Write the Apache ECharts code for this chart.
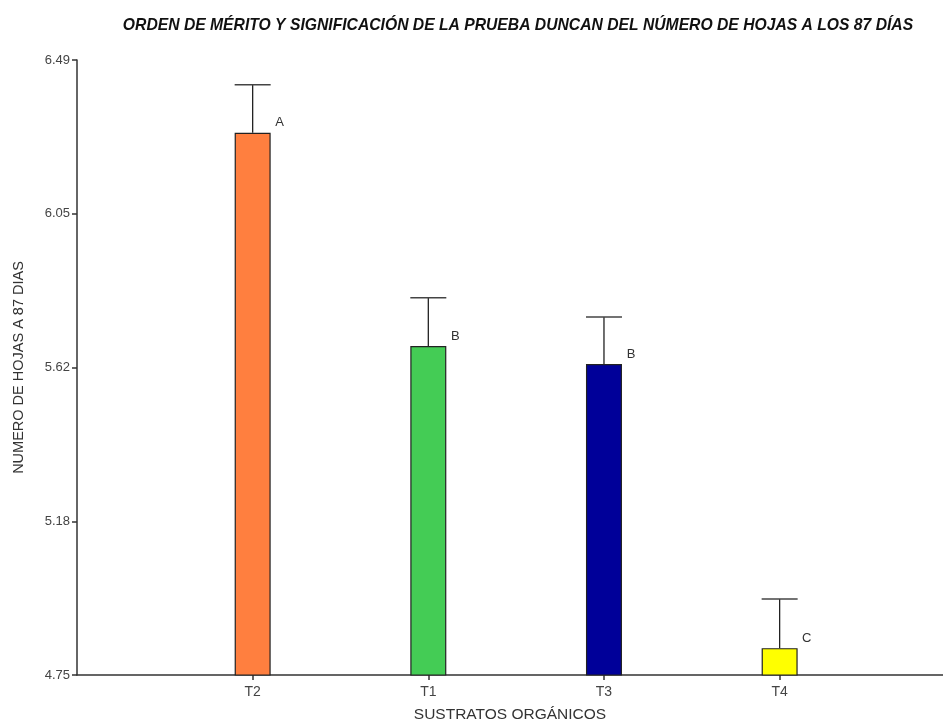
<!DOCTYPE html>
<html><head><meta charset="utf-8">
<script src="https://cdn.jsdelivr.net/npm/echarts@6/dist/echarts.min.js"></script>
<style>html,body{margin:0;padding:0;background:#fff}#c{width:943px;height:722px}</style>
</head><body><div id="c"></div>
<script>
const categories = ['T2', 'T1', 'T3', 'T4'];
const means = [6.284, 5.681, 5.630, 4.826];
const upper = [6.42, 5.817, 5.763, 4.965];
const groups = ['A', 'B', 'B', 'C'];
const barColors = ['#FF7F3F', '#44CC55', '#000099', '#FFFF00'];
const yTickValues = [4.75, 5.185, 5.62, 6.055, 6.49];
const yTickLabels = ['4.75', '5.18', '5.62', '6.05', '6.49'];
const positions = categories.map((c, i) => i + 1);

const chart = echarts.init(document.getElementById('c'));
chart.setOption({
  animation: false,
  title: {
    text: 'ORDEN DE MÉRITO Y SIGNIFICACIÓN DE LA PRUEBA DUNCAN DEL NÚMERO DE HOJAS A LOS 87 DÍAS',
    left: 513, top: 13, textAlign: 'center',
    textStyle: { fontFamily: 'Liberation Sans', fontStyle: 'italic', fontWeight: 'bold', fontSize: 15.7, color: '#111' }
  },
  grid: { left: 77, right: 0, top: 60, bottom: 47, containLabel: false, outerBoundsMode: 'none' },
  xAxis: {
    type: 'value', min: 0, max: 4.93,
    name: 'SUSTRATOS ORGÁNICOS', nameLocation: 'middle', nameGap: 32,
    nameTextStyle: { fontFamily: 'Liberation Sans', fontSize: 15.5, color: '#333' },
    axisLine: { onZero: false, lineStyle: { color: '#333', width: 1.5 } },
    axisTick: { show: true, length: 5, customValues: positions, lineStyle: { color: '#333', width: 1.5 } },
    axisLabel: {
      customValues: positions, fontFamily: 'Liberation Sans', fontSize: 14, color: '#444', margin: 10,
      formatter: v => categories[Math.round(v) - 1]
    },
    splitLine: { show: false }
  },
  yAxis: {
    type: 'value', min: 4.75, max: 6.49,
    name: 'NUMERO DE HOJAS A 87 DIAS', nameLocation: 'middle', nameGap: 51,
    nameTextStyle: { fontFamily: 'Liberation Sans', fontSize: 14.5, color: '#333' },
    axisLine: { show: true, onZero: false, lineStyle: { color: '#333', width: 1.5 } },
    axisTick: { show: true, length: 5, customValues: yTickValues, lineStyle: { color: '#333', width: 1.5 } },
    axisLabel: {
      customValues: yTickValues, fontFamily: 'Liberation Sans', fontSize: 13, color: '#444', margin: 7,
      formatter: v => yTickLabels[yTickValues.findIndex(t => Math.abs(t - v) < 1e-6)]
    },
    splitLine: { show: false }
  },
  series: [
    {
      type: 'bar', barWidth: 36,
      data: means.map((m, i) => ({ value: [positions[i], m], itemStyle: { color: barColors[i] } })),
      itemStyle: { borderColor: '#222', borderWidth: 1.2 }
    },
    {
      type: 'custom', z: 5,
      data: means.map((m, i) => [positions[i], m, upper[i], groups[i]]),
      renderItem: (params, api) => {
        const x = api.value(0);
        const top = api.coord([x, api.value(1)]);
        const up = api.coord([x, api.value(2)]);
        const hw = 18;
        return {
          type: 'group', children: [
            { type: 'line', shape: { x1: top[0], y1: top[1], x2: up[0], y2: up[1] }, style: { stroke: '#222', lineWidth: 1.3 } },
            { type: 'line', shape: { x1: up[0] - hw, y1: up[1], x2: up[0] + hw, y2: up[1] }, style: { stroke: '#444', lineWidth: 1.5 } },
            { type: 'text', x: top[0] + 27, y: top[1] - 10, style: { text: api.value(3), fontFamily: 'Liberation Sans', fontSize: 13, fill: '#333', align: 'center', verticalAlign: 'middle' } }
          ]
        };
      }
    }
  ]
});
</script></body></html>
